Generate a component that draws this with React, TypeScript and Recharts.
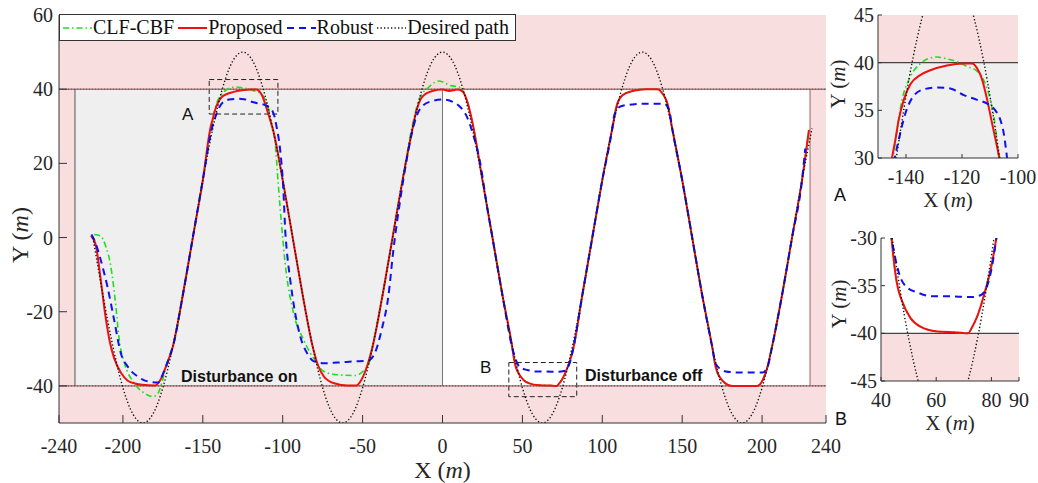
import { LineChart, Line, XAxis, YAxis, ReferenceArea, ReferenceLine, Legend } from 'recharts'

type Pt = [number, number]

// desired sinusoidal path (black dotted)
const desiredPath: Pt[] = [
  [-218.75, 0], [-212.5, -15.5], [-206.25, -29.4], [-200, -40.5], [-193.75, -47.6], [-187.5, -50],
  [-181.25, -47.6], [-175, -40.5], [-168.75, -29.4], [-162.5, -15.5], [-156.25, 0], [-150, 15.5],
  [-143.75, 29.4], [-137.5, 40.5], [-131.25, 47.6], [-125, 50], [-118.75, 47.6], [-112.5, 40.5],
  [-106.25, 29.4], [-100, 15.5], [-93.75, 0], [-87.5, -15.5], [-81.25, -29.4], [-75, -40.5],
  [-68.75, -47.6], [-62.5, -50], [-56.25, -47.6], [-50, -40.5], [-43.75, -29.4], [-37.5, -15.5],
  [-31.25, 0], [-25, 15.5], [-18.75, 29.4], [-12.5, 40.5], [-6.25, 47.6], [0, 50], [6.25, 47.6],
  [12.5, 40.5], [18.75, 29.4], [25, 15.5], [31.25, 0], [37.5, -15.5], [43.75, -29.4], [50, -40.5],
  [56.25, -47.6], [62.5, -50], [68.75, -47.6], [75, -40.5], [81.25, -29.4], [87.5, -15.5], [93.75, 0],
  [100, 15.5], [106.25, 29.4], [112.5, 40.5], [118.75, 47.6], [125, 50], [131.25, 47.6], [137.5, 40.5],
  [143.75, 29.4], [150, 15.5], [156.25, 0], [162.5, -15.5], [168.75, -29.4], [175, -40.5],
  [181.25, -47.6], [187.5, -50], [193.75, -47.6], [200, -40.5], [206.25, -29.4], [212.5, -15.5],
  [218.75, 0], [225, 15.5], [231.25, 29.4],
]

// proposed controller (red)
const proposed: Pt[] = [
  [-220, 0.5], [-217, -2], [-214, -11], [-211, -21], [-208, -28.5], [-205.5, -32.5], [-201, -36.6],
  [-197, -38.6], [-192, -39.4], [-188, -39.7], [-180, -39.9], [-178, -39.3], [-175.5, -37.5],
  [-173.7, -35.5], [-168.75, -29.4], [-162.5, -15.5], [-156.25, 0], [-150, 15.5], [-145, 30],
  [-143.8, 31.9], [-142.6, 34], [-140.8, 36.1], [-138.5, 37.7], [-134.9, 38.7], [-131.3, 39.2],
  [-125.4, 39.7], [-119.4, 39.9], [-116.4, 39.9], [-114.6, 39.4], [-112.9, 38.3], [-111, 36.1],
  [-109.3, 33.7], [-107.5, 31.2], [-106.25, 29.4], [-100, 15.5], [-93.75, 0], [-87.5, -15.5],
  [-81.25, -29.4], [-78.4, -33.9], [-74.2, -37.5], [-67.8, -39.3], [-59.3, -39.9], [-54, -39.9],
  [-50.8, -38.4], [-46.6, -33.9], [-43.75, -29.4], [-37.5, -15.5], [-31.25, 0], [-25, 15.5],
  [-18.75, 29.4], [-17, 33], [-12.7, 37.9], [-6.4, 39.5], [0, 39.9], [4.2, 39.5], [9.5, 39.9],
  [12.7, 39.3], [15.9, 36.1], [18.75, 31], [25, 15.5], [31.25, 0], [37.5, -15.5], [43.8, -30],
  [44.6, -32.3], [45.8, -34.8], [47.6, -36.6], [50.7, -38.4], [54.3, -39.3], [60.4, -39.8],
  [67.6, -39.9], [71.5, -40], [73.1, -39.3], [74.9, -38.2], [77.3, -36], [79.8, -33.2], [81.8, -30],
  [87.5, -15.5], [93.75, 0], [100, 15.5], [106.25, 29.4], [109, 35.5], [112.7, 38.4], [118.9, 39.5],
  [127.3, 40], [134.6, 40], [137.7, 38.8], [140.8, 36.1], [143.75, 29.4], [150, 15.5], [156.25, 0],
  [162.5, -15.5], [168.75, -29.4], [171, -35], [175.2, -38.6], [181.4, -40], [197, -40],
  [200.2, -38.6], [203.3, -35], [206.25, -29.4], [212.5, -15.5], [218.75, 0], [225, 15.5], [229.3, 29],
]

// CLF-CBF (green) while the disturbance is on; afterwards it sits on the red curve
const clfCbfOn: Pt[] = [
  [-218, 0.8], [-214, 0.4], [-210.8, -2.3], [-207.6, -7.7], [-204.4, -18.6], [-202.3, -27.6],
  [-199, -33.9], [-192.8, -39.3], [-186.4, -42], [-181.1, -42.9], [-178, -42], [-175.8, -39.3],
  [-171.6, -33], [-168.75, -29.4], [-162.5, -15.5], [-156.25, 0], [-150, 15.5], [-144.6, 30],
  [-143.2, 33], [-141.4, 36.1], [-138.5, 38.5], [-134.9, 39.9], [-131.3, 40.5], [-128.9, 40.6],
  [-125.4, 40.4], [-121.8, 40.1], [-118.2, 39.6], [-114.6, 39.1], [-112.3, 38.2], [-109.9, 36.1],
  [-108.1, 33.3], [-106.9, 30], [-104.9, 26.2], [-102.8, 14.5], [-100.6, 2.8], [-98.5, -6.8],
  [-93.2, -20.4], [-86.9, -27.6], [-79.4, -33.4], [-74.2, -36.1], [-65.7, -37], [-55, -37.2],
  [-49.8, -36.1], [-45.6, -33.4], [-43.75, -29.4], [-37.5, -15.5], [-31.25, 0], [-25, 15.5],
  [-19, 30], [-14.8, 37], [-8.5, 40.6], [-2.1, 42.2], [0, 42], [4.2, 41.1], [10.6, 40.5], [13.2, 39.2],
]
const clfCbf: Pt[] = [...clfCbfOn, ...proposed.filter(([x]) => x > 15)]

// robust controller (blue dashed)
const robust: Pt[] = [
  [-219.7, 0.8], [-217.2, -1.4], [-214, -5.9], [-209.7, -13.2], [-205.5, -22.2], [-201.3, -31.2],
  [-197, -34.8], [-190.7, -37.5], [-184.3, -38.8], [-178, -39.1], [-174.8, -36.6], [-171.6, -33],
  [-168.75, -29.4], [-162.5, -15.5], [-156.25, 0], [-150, 15.5], [-144, 30], [-142.6, 31.9],
  [-140.2, 34.7], [-137.3, 36.5], [-133.7, 37.2], [-128.9, 37.4], [-124.2, 37.3], [-119.4, 36.6],
  [-114.6, 36.1], [-111, 35.7], [-108.1, 35], [-106.3, 34], [-105.1, 32.6], [-103.9, 30],
  [-101.7, 24], [-99.6, 13], [-98.3, 1], [-97.5, -3.2], [-95.3, -11.4], [-92.2, -20.4], [-89, -26.7],
  [-84.7, -31.2], [-80.5, -33.4], [-74.2, -33.9], [-65.7, -33.7], [-55, -33.4], [-46.6, -33.2],
  [-42.4, -31.2], [-38.1, -24.9], [-33.9, -15.9], [-30.7, -3.2], [-26.5, 10], [-22, 22], [-18.75, 29],
  [-15.5, 33.5], [-12.7, 35.4], [-6.4, 36.8], [0, 37.2], [6.4, 36.6], [10.6, 35.4], [14.8, 33],
  [19, 28], [23.3, 20.8], [28, 8], [31.25, 0], [37.5, -15.5], [43.8, -30], [45.3, -32.3], [47, -34.1],
  [49.5, -35.2], [53.1, -35.7], [58, -36.1], [64, -36.1], [72.5, -36.2], [76.1, -36], [78.5, -35],
  [80.4, -32.7], [81.8, -30], [87.5, -15.5], [93.75, 0], [100, 15.5], [106.25, 29.4], [107.5, 33],
  [111.7, 35.4], [118.9, 35.9], [129.4, 36.1], [138.75, 36.1], [141.9, 34.3], [143.75, 29.4],
  [150, 15.5], [156.25, 0], [162.5, -15.5], [168.75, -29.4], [171, -34.1], [177.3, -36.1],
  [185.6, -36.4], [200.2, -36.4], [203.3, -35], [206.25, -29.4], [212.5, -15.5], [218.75, 0],
  [225, 15.5], [227, 24],
]

const mainXTicks = [-240, -200, -150, -100, -50, 0, 50, 100, 150, 200, 240]
const mainYTicks = [-40, -20, 0, 20, 40, 60]
const insetAXTicks = [-140, -120, -100]
const insetAYTicks = [30, 35, 40, 45]
const insetBXTicks = [40, 60, 80, 90]
const insetBYTicks = [-45, -40, -35, -30]

const toRows = (pts: Pt[]) => pts.map(([x, y]) => ({ x, y }))

const series = [
  { name: 'CLF-CBF', rows: toRows(clfCbf), color: '#1BE01B', dash: '6 3 1.5 3', width: 1.6 },
  { name: 'Proposed', rows: toRows(proposed), color: '#F01010', dash: undefined, width: 2 },
  { name: 'Robust', rows: toRows(robust), color: '#1010F0', dash: '7 5', width: 2 },
  { name: 'Desired path', rows: toRows(desiredPath), color: '#111', dash: '1.3 2.2', width: 1.4 },
]

const PINK = '#F8DEDF'
const GRAY = '#EFEFEF'
const AXIS = '#333'
const SERIF = '"Liberation Serif", "Times New Roman", serif'
const SANS = '"Liberation Sans", Arial, sans-serif'

const tickFont = { fontSize: 20, fill: '#262626', fontFamily: SERIF }
const blank = () => ''

function xTitle(dy: number, size: number) {
  return (props: any) => {
    const { x, y, width } = props.viewBox
    return (
      <text x={x + width / 2} y={y + dy} textAnchor="middle" fontFamily={SERIF} fontSize={size} fill="#262626">
        X (<tspan fontStyle="italic">m</tspan>)
      </text>
    )
  }
}

function yTitle(cx: number, cy: number, size: number) {
  return () => (
    <text x={cx} y={cy} textAnchor="middle" dominantBaseline="middle" transform={`rotate(-90 ${cx} ${cy})`}
      fontFamily={SERIF} fontSize={size} fill="#262626">
      Y (<tspan fontStyle="italic">m</tspan>)
    </text>
  )
}

function LegendBox() {
  return (
    <div style={{ display: 'flex', alignItems: 'center', height: 25, border: `1px solid ${AXIS}`, background: '#fff',
      fontFamily: SERIF, fontSize: 20, color: '#111', paddingLeft: 3, paddingRight: 2, whiteSpace: 'nowrap' }}>
      {series.map((s) => (
        <div key={s.name} style={{ display: 'flex', alignItems: 'center', marginRight: 4 }}>
          <svg width={29} height={10}>
            <line x1={0} y1={5} x2={29} y2={5} stroke={s.color} strokeWidth={s.width} strokeDasharray={s.dash} />
          </svg>
          <span style={{ marginLeft: 1 }}>{s.name}</span>
        </div>
      ))}
    </div>
  )
}

function seriesLines() {
  return series.map((s) => (
    <Line key={s.name} data={s.rows} dataKey="y" name={s.name} type="monotone" stroke={s.color}
      strokeWidth={s.width} strokeDasharray={s.dash} dot={false} activeDot={false} isAnimationActive={false} />
  ))
}

const label = (left: number, top: number, text: string, size: number, bold = false) => (
  <div style={{ position: 'absolute', left, top, fontFamily: SANS, fontSize: size, lineHeight: `${size}px`,
    fontWeight: bold ? 700 : 400, color: '#111', whiteSpace: 'nowrap' }}>{text}</div>
)

export default function App() {
  return (
    <div style={{ position: 'relative', width: 1038, height: 483, background: '#fff', overflow: 'hidden' }}>
      <style>{'body{margin:0}'}</style>

      <div style={{ position: 'absolute', left: 0, top: 0 }}>
        <LineChart width={846} height={483} margin={{ top: 15, right: 20, left: 0, bottom: 0 }}>
          <XAxis dataKey="x" type="number" domain={[-240, 240]} ticks={mainXTicks} interval={0} allowDataOverflow
            height={60} tickSize={-8} tickMargin={24} tick={tickFont} stroke={AXIS} label={xTitle(55, 24)} />
          <XAxis xAxisId="top" orientation="top" dataKey="x" type="number" domain={[-240, 240]} ticks={mainXTicks}
            interval={0} height={0} tickSize={-8} tickFormatter={blank} stroke={AXIS} />
          <YAxis type="number" domain={[-50, 60]} ticks={mainYTicks} interval={0} allowDataOverflow width={59}
            tickSize={-8} tickMargin={14} tick={tickFont} stroke={AXIS} label={yTitle(22, 235, 24)} />
          <YAxis yAxisId="right" orientation="right" type="number" domain={[-50, 60]} ticks={mainYTicks}
            interval={0} width={0} tickSize={-8} tickFormatter={blank} stroke={AXIS} />

          <ReferenceArea x1={-240} x2={240} y1={40} y2={60} fill={PINK} fillOpacity={1} stroke="none" />
          <ReferenceArea x1={-240} x2={240} y1={-50} y2={-40} fill={PINK} fillOpacity={1} stroke="none" />
          <ReferenceArea x1={-240} x2={-230} y1={-40} y2={40} fill={PINK} fillOpacity={1} stroke="none" />
          <ReferenceArea x1={230} x2={240} y1={-40} y2={40} fill={PINK} fillOpacity={1} stroke="none" />
          <ReferenceArea x1={-230} x2={0} y1={-40} y2={40} fill={GRAY} fillOpacity={1} stroke="none" />

          <ReferenceLine y={40} stroke="#555" strokeWidth={1} />
          <ReferenceLine y={-40} stroke="#555" strokeWidth={1} />
          <ReferenceLine y={40} stroke="#D02020" strokeWidth={1} strokeDasharray="1 2" />
          <ReferenceLine y={-40} stroke="#D02020" strokeWidth={1} strokeDasharray="1 2" />
          <ReferenceLine segment={[{ x: -230, y: -40 }, { x: -230, y: 40 }]} stroke="#555" />
          <ReferenceLine segment={[{ x: 0, y: -40 }, { x: 0, y: 40 }]} stroke="#777" />
          <ReferenceLine segment={[{ x: 230, y: -40 }, { x: 230, y: 40 }]} stroke="#A06060" />

          <ReferenceArea x1={-146} x2={-103} y1={33.3} y2={42.6} fill="none" stroke="#222" strokeDasharray="5 3" />
          <ReferenceArea x1={41.5} x2={84} y1={-42.9} y2={-33.7} fill="none" stroke="#222" strokeDasharray="5 3" />

          {seriesLines()}

          <Legend verticalAlign="middle" layout="horizontal" content={() => <LegendBox />}
            wrapperStyle={{ left: 59, top: 14, width: 'auto' }} />
        </LineChart>
      </div>

      {label(181, 369, 'Disturbance on', 16, true)}
      {label(585, 368, 'Disturbance off', 16, true)}
      {label(182, 106, 'A', 17)}
      {label(480, 359, 'B', 17)}
      {label(834, 186, 'A', 18)}
      {label(835, 410, 'B', 18)}

      <div style={{ position: 'absolute', left: 814, top: 0 }}>
        <LineChart width={224} height={218} margin={{ top: 15, right: 20, left: 0, bottom: 0 }}>
          <XAxis dataKey="x" type="number" domain={[-150, -100]} ticks={insetAXTicks} interval={0} allowDataOverflow
            height={60} tickSize={-4} tickMargin={16} tick={tickFont} stroke={AXIS} label={xTitle(49, 21)} />
          <XAxis xAxisId="top" orientation="top" dataKey="x" type="number" domain={[-150, -100]} ticks={insetAXTicks}
            interval={0} height={0} tickSize={-4} tickFormatter={blank} stroke={AXIS} />
          <YAxis type="number" domain={[30, 45]} ticks={insetAYTicks} interval={0} allowDataOverflow width={64}
            tickSize={-4} tickMargin={8} tick={tickFont} stroke={AXIS} label={yTitle(26, 84, 21)} />
          <YAxis yAxisId="right" orientation="right" type="number" domain={[30, 45]} ticks={insetAYTicks}
            interval={0} width={0} tickSize={-4} tickFormatter={blank} stroke={AXIS} />
          <ReferenceArea x1={-150} x2={-100} y1={40} y2={45} fill={PINK} fillOpacity={1} stroke="none" ifOverflow="hidden" />
          <ReferenceArea x1={-150} x2={-100} y1={30} y2={40} fill={GRAY} fillOpacity={1} stroke="none" ifOverflow="hidden" />
          <ReferenceLine y={40} stroke="#444" strokeWidth={1.2} />
          {seriesLines()}
        </LineChart>
      </div>

      <div style={{ position: 'absolute', left: 817, top: 220 }}>
        <LineChart width={221} height={221} margin={{ top: 18, right: 19, left: 0, bottom: 0 }}>
          <XAxis dataKey="x" type="number" domain={[40, 90]} ticks={insetBXTicks} interval={0} allowDataOverflow
            height={60} tickSize={-4} tickMargin={16} tick={tickFont} stroke={AXIS} label={xTitle(49, 21)} />
          <XAxis xAxisId="top" orientation="top" dataKey="x" type="number" domain={[40, 90]} ticks={insetBXTicks}
            interval={0} height={0} tickSize={-4} tickFormatter={blank} stroke={AXIS} />
          <YAxis type="number" domain={[-45, -30]} ticks={insetBYTicks} interval={0} allowDataOverflow width={64}
            tickSize={-4} tickMargin={8} tick={tickFont} stroke={AXIS} label={yTitle(24, 84, 21)} />
          <YAxis yAxisId="right" orientation="right" type="number" domain={[-45, -30]} ticks={insetBYTicks}
            interval={0} width={0} tickSize={-4} tickFormatter={blank} stroke={AXIS} />
          <ReferenceArea x1={40} x2={90} y1={-45} y2={-40} fill={PINK} fillOpacity={1} stroke="none" ifOverflow="hidden" />
          <ReferenceLine y={-40} stroke="#444" strokeWidth={1.2} />
          {seriesLines()}
        </LineChart>
      </div>
    </div>
  )
}
